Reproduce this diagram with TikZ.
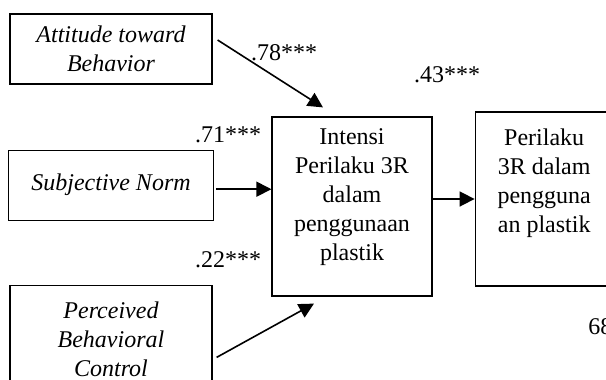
\documentclass[tikz,border=0pt]{standalone}
\usepackage{fontspec}
\setmainfont{Liberation Serif}
\usetikzlibrary{arrows.meta,positioning}

\begin{document}
\begin{tikzpicture}[
      x=0.5pt, y=-0.5pt,
      font=\fontsize{12}{14.5}\selectfont,
      varbox/.style={draw, line width=0.6pt, align=center, font=\fontsize{12}{14.5}\selectfont\itshape,
        minimum width=101pt, minimum height=35pt},
      mainbox/.style={draw, line width=0.6pt, align=center, minimum width=80pt},
      coef/.style={inner sep=0pt},
      arrow/.style={-{Triangle[length=7.5pt,width=7.5pt]}, line width=0.8pt}
    ]
    \useasboundingbox (0,0) rectangle (606,380);
    \node[varbox] (att) at (111,49) {Attitude toward\\Behavior};
    \node[varbox, below=32.5pt of att, minimum width=102.5pt] (sub) {Subjective Norm};
    \node[varbox, below=32pt of sub, minimum height=53.5pt] (pbc) {Perceived\\Behavioral\\Control};
    \node[mainbox, minimum height=89.5pt, text height=66pt, text depth=12pt] (int) at (352,206.5)
      {Intensi\\Perilaku 3R\\dalam\\penggunaan\\plastik};
    \node[mainbox, right=21pt of int, yshift=3.75pt, minimum width=69pt, minimum height=87pt,
      text height=51.5pt, text depth=18pt] (per) {Perilaku\\3R dalam\\pengguna\\an plastik};
    \node[coef] (lblatt) at (284,53) {.78***};
    \node[coef] (lblsub) at (228,135) {.71***};
    \node[coef] (lblpbc) at (228,260) {.22***};
    \node[coef] (lblint) at (447,75) {.43***};
    \node[coef, anchor=west] (page) at (588,327) {68};
    \coordinate (subout) at ([shift={(2,4)}]sub.east);
    \draw[arrow] ([shift={(5,-9)}]att.east) -- ([shift={(-29,-9)}]int.north);
    \draw[arrow] (subout) -- (subout -| int.west);
    \draw[arrow] ([shift={(4,18.5)}]pbc.east) -- ([shift={(-38,7)}]int.south);
    \draw[arrow] (per.west -| int.east) -- (per.west);
  \end{tikzpicture}
\end{document}
